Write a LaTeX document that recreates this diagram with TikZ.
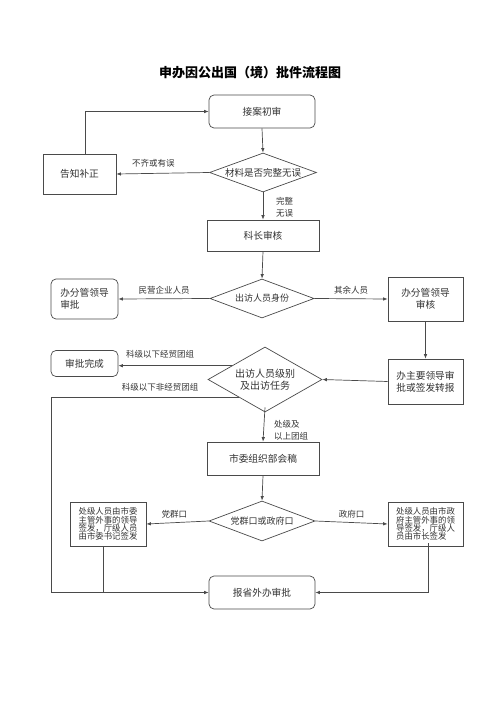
\documentclass[tikz,border=0pt]{standalone}
\usepackage{fontspec}
\setmainfont{Noto Sans CJK SC}
\usetikzlibrary{shapes.geometric,arrows.meta,calc}
\definecolor{ln}{HTML}{4A4A4A}
\definecolor{tx}{HTML}{333333}
\tikzset{
  base/.style={draw=ln, line width=0.7pt, text=tx, inner sep=0pt, align=center},
  boxn/.style={base, rectangle, font=\fontsize{9.7}{12}\selectfont},
  rbox/.style={boxn, rounded corners=5pt},
  dia/.style={base, diamond, font=\fontsize{9}{12}\selectfont},
  small/.style={base, rectangle, font=\fontsize{8.4}{8.4}\selectfont},
  lbl/.style={text=tx, font=\fontsize{8.5}{11}\selectfont, inner sep=0pt, align=left},
  conn/.style={draw=ln, line width=0.7pt},
  arr/.style={conn, -{Latex[length=4.5pt,width=3.5pt]}}
}
\begin{document}
\begin{tikzpicture}[x=1pt,y=-1pt]
\useasboundingbox (0,0) rectangle (500,708);
\fill[white] (0,0) rectangle (500,708);

\node[text=black, font=\fontsize{13}{14}\selectfont\bfseries] (title) at (250,73) {申办因公出国（境）批件流程图};

\node[rbox, minimum width=106pt, minimum height=33pt] (n1) at (262,111.5) {接案初审};
\node[dia, minimum width=107pt, minimum height=39pt, aspect=2.7, font=\fontsize{9.5}{12}\selectfont] (d1) at (263,172.5) {材料是否完整无误};
\node[boxn, minimum width=73pt, minimum height=40pt] (nt) at (79.5,174) {告知补正};
\node[boxn, minimum width=112pt, minimum height=31pt] (n2) at (263,235.5) {科长审核};
\node[dia, minimum width=104pt, minimum height=39pt, aspect=2.7] (d2) at (262,298.5) {出访人员身份};
\node[rbox, minimum width=67pt, minimum height=40pt, align=left] (lb) at (84.5,299) {办分管领导\\审批};
\node[boxn, minimum width=75pt, minimum height=44pt] (rb) at (425.5,299) {办分管领导\\审核};
\node[boxn, minimum width=75pt, minimum height=45pt] (rb2) at (425.5,381.5) {办主要领导审\\批或签发转报};
\node[dia, minimum width=114pt, minimum height=65pt, aspect=1.75, font=\fontsize{10}{12}\selectfont] (d3) at (265,379.5) {出访人员级别\\及出访任务};
\node[rbox, minimum width=67pt, minimum height=26pt] (done) at (84.5,363.5) {审批完成};
\node[boxn, minimum width=112pt, minimum height=33pt] (n3) at (263,458.5) {市委组织部会稿};
\node[dia, minimum width=106pt, minimum height=40pt, aspect=2.65] (d4) at (262,521) {党群口或政府口};
\node[small, minimum width=76pt, minimum height=44pt] (lb2) at (108,524) {处级人员由市委\\主管外事的领导\\签发，厅级人员\\由市委书记签发};
\node[small, minimum width=75pt, minimum height=44pt, align=left] (rb3) at (425.5,524) {处级人员由市政\\府主管外事的领\\导签发，厅级人\\员由市长签发};
\node[rbox, minimum width=106pt, minimum height=33pt] (fin) at (262,592.5) {报省外办审批};

% connectors
\draw[arr] (n1.south) -- (d1.north);
\draw[arr] (d1.west) -- (nt.east) node[lbl, pos=0.6, above=6pt] (l1) {不齐或有误};
\draw[arr] ([xshift=5.5pt]nt.north) |- (n1.west);
\draw[arr] (d1.south) -- (n2.north);
\node[lbl, anchor=west] (l2) at (276,207) {完整\\[1pt]无误};
\draw[arr] (n2.south) -- (d2.north);
\draw[arr] (d2.west) -- (lb.east) node[lbl, pos=0.5, above=4pt] (l3) {民营企业人员};
\draw[arr] (d2.east) -- (rb.west) node[lbl, pos=0.5, above=4pt] (l4) {其余人员};
\draw[arr] (rb.south) -- (rb2.north);
\draw[arr] (rb2.west) -- (d3.east);
\coordinate (p1) at ($(d3.west)!0.42!(d3.north)$);
\draw[arr] (p1) -- (p1 -| done.east);
\node[lbl] (l5) at (160,354) {科级以下经贸团组};
\coordinate (p2) at ($(d3.west)!0.54!(d3.south)$);
\coordinate (lx) at (51,0);
\draw[arr] (p2) -- (p2 -| lx) |- (fin.west);
\node[lbl] (l6) at (160,387) {科级以下非经贸团组};
\draw[arr] ([yshift=5pt]d3.south) -- (n3.north);
\node[lbl, anchor=west] (l7) at (274,430) {处级及\\[1pt]以上团组};
\draw[arr] (n3.south) -- (d4.north);
\draw[arr] (d4.west) -- (lb2.east) node[lbl, pos=0.55, above=4pt] (l8) {党群口};
\draw[arr] (d4.east) -- (rb3.west) node[lbl, pos=0.5, above=4pt] (l9) {政府口};
\draw[conn] ([xshift=-5pt]lb2.south) -- ([xshift=-5pt]lb2.south |- fin.west);
\draw[arr] ([xshift=2.5pt,yshift=3pt]rb3.south) |- (fin.east);
\end{tikzpicture}
\end{document}
